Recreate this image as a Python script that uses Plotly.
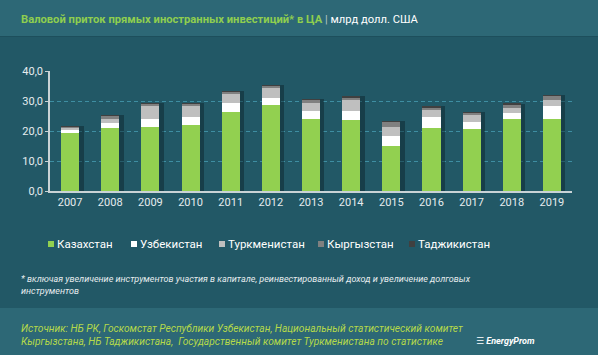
import plotly.graph_objects as go

years = ["2007", "2008", "2009", "2010", "2011", "2012", "2013",
         "2014", "2015", "2016", "2017", "2018", "2019"]
kazakhstan = [19.5, 21.1, 21.4, 22.1, 26.5, 28.7, 24.1, 23.7, 15.0, 21.1, 20.7, 24.1, 24.1]
uzbekistan = [0.9, 1.6, 2.7, 2.6, 2.7, 2.4, 2.6, 3.0, 3.4, 3.6, 2.4, 2.0, 4.3]
turkmenistan = [0.8, 1.4, 4.4, 3.8, 3.3, 3.3, 2.7, 3.7, 3.0, 2.4, 2.3, 1.6, 2.0]
kyrgyzstan = [0.2, 1.0, 0.5, 0.5, 0.5, 0.6, 1.0, 0.7, 1.7, 0.6, 0.6, 1.0, 1.4]
tajikistan = [0.2, 0.2, 0.3, 0.3, 0.3, 0.3, 0.2, 0.7, 0.2, 0.7, 0.3, 0.4, 0.2]

series_names = ["Казахстан", "Узбекистан", "Туркменистан", "Кыргызстан", "Таджикистан"]
series_values = [kazakhstan, uzbekistan, turkmenistan, kyrgyzstan, tajikistan]
series_colors = ["#92d050", "#ffffff", "#bfbfbf", "#808080", "#404040"]

W, H = 598, 355
L, R, T, B = 50, 26, 71, 164
PW = W - L - R
PH = H - T - B


def px(x):
    return (x - L) / PW


def py(y):
    return (H - B - y) / PH


FONT = "Roboto, 'DejaVu Sans', sans-serif"
BG = "#225866"

fig = go.Figure()

totals = [sum(v) for v in zip(*series_values)]
# subtle drop shadow behind the bars
fig.add_trace(go.Bar(x=years, y=totals, xaxis="x", yaxis="y",
                     marker=dict(color="rgba(10,30,38,0.45)", line=dict(width=0)),
                     width=0.45, offset=-0.225 + 0.11, hoverinfo="skip", showlegend=False))

for name, vals, col in zip(series_names, series_values, series_colors):
    fig.add_trace(go.Bar(x=years, y=vals, name=name, xaxis="x2", yaxis="y",
                         marker=dict(color=col, line=dict(width=0)),
                         width=0.45, showlegend=False))

shapes = [
    # header band
    dict(type="rect", xref="paper", yref="paper", x0=px(0), x1=px(W), y0=py(36), y1=py(0),
         fillcolor="#2d6876", line=dict(width=0), layer="below"),
    dict(type="line", xref="paper", yref="paper", x0=px(0), x1=px(W), y0=py(36.5), y1=py(36.5),
         line=dict(color="#1d4f5c", width=1), layer="below"),
    # footer band
    dict(type="rect", xref="paper", yref="paper", x0=px(0), x1=px(W), y0=py(H), y1=py(308),
         fillcolor="#2d6876", line=dict(width=0), layer="below"),
]

annotations = [
    dict(xref="paper", yref="paper", x=px(19), y=py(19), xanchor="left", yanchor="middle",
         showarrow=False,
         text="<b>Валовой приток прямых иностранных инвестиций* в ЦА</b> "
              "<span style='color:#b9c9cc'>|</span> <span style='color:#ffffff'>млрд долл. США</span>",
         font=dict(family=FONT, size=11.2, color="#8fce4f")),
    dict(xref="paper", yref="paper", x=px(19), y=py(284.5), xanchor="left", yanchor="middle",
         showarrow=False, align="left",
         text="<i>* включая увеличение инструментов участия в капитале, реинвестированный доход и увеличение долговых"
              "<br>инструментов</i>",
         font=dict(family=FONT, size=9, color="#e6ecee")),
    dict(xref="paper", yref="paper", x=px(19), y=py(334.5), xanchor="left", yanchor="middle",
         showarrow=False, align="left",
         text="<i>Источник: НБ РК, Госкомстат Республики Узбекистан, Национальный статистический комитет"
              "<br>Кыргызстана, НБ Таджикистана,  Государственный комитет Туркменистана по статистике</i>",
         font=dict(family=FONT, size=10.2, color="#b5d94a")),
    dict(xref="paper", yref="paper", x=px(474), y=py(341), xanchor="left", yanchor="middle",
         showarrow=False, text="<b><i>☰ EnergyProm</i></b>",
         font=dict(family=FONT, size=9, color="#ffffff")),
]

legend_sq_x = [48, 131, 219, 318, 409]
for name, col, sx in zip(series_names, series_colors, legend_sq_x):
    shapes.append(dict(type="rect", xref="paper", yref="paper", x0=px(sx), x1=px(sx + 6),
                       y0=py(247), y1=py(241), fillcolor=col, line=dict(width=0)))
    annotations.append(dict(xref="paper", yref="paper", x=px(sx + 7), y=py(244),
                            xanchor="left", yanchor="middle", showarrow=False, text=name,
                            font=dict(family=FONT, size=11.5, color="#ffffff")))

fig.update_layout(
    width=W, height=H,
    margin=dict(l=L, r=R, t=T, b=B, pad=0),
    paper_bgcolor=BG, plot_bgcolor=BG,
    barmode="stack",
    bargap=0.55,
    showlegend=False,
    separators=", ",
    font=dict(family=FONT, size=11, color="#e6ecee"),
    xaxis=dict(type="category", categoryorder="array", categoryarray=years,
               showgrid=False, showline=True, linecolor="#c9d3d6", linewidth=1.5,
               ticks="", tickfont=dict(size=11, color="#e6ecee"), zeroline=False),
    xaxis2=dict(type="category", categoryorder="array", categoryarray=years,
                overlaying="x", matches="x", visible=False),
    yaxis=dict(range=[0, 40], dtick=10, tickformat=".1f",
               showgrid=True, gridcolor="#3e8ea2", griddash="4px,3px", gridwidth=1,
               showline=True, linecolor="#c9d3d6", linewidth=1.5,
               ticks="outside", ticklen=3, tickcolor="#c9d3d6",
               tickfont=dict(size=11, color="#e6ecee"), zeroline=False),
    shapes=shapes,
    annotations=annotations,
)

fig.write_html("out.html", config={"displayModeBar": False},
               post_script="document.body.style.margin='0';document.body.style.overflow='hidden';")
